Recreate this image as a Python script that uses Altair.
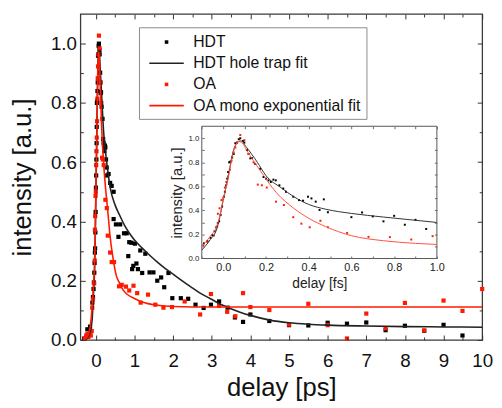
import altair as alt
import pandas as pd

# ---------------- data ----------------
LEGEND_LABELS = ["HDT", "HDT hole trap fit", "OA", "OA mono exponential fit"]

HDT_X = [-0.3, -0.25, -0.22, -0.15, -0.12,
         -0.09, -0.074, -0.059, -0.051, -0.04, -0.032, -0.025, -0.019, -0.012, -0.005,
         0.003, 0.008, 0.014, 0.019, 0.023, 0.028, 0.034, 0.042, 0.049, 0.057,
         0.065, 0.073, 0.08, 0.093, 0.099, 0.111, 0.119, 0.127, 0.134, 0.15,
         0.173, 0.189, 0.201, 0.212, 0.223, 0.235, 0.246, 0.263, 0.281, 0.294,
         0.33, 0.37, 0.41, 0.46, 0.46, 0.52, 0.585, 0.63, 0.73, 0.80,
         0.84, 0.865, 0.92, 0.94, 0.97, 1.01, 1.05, 1.09, 1.15, 1.2,
         1.28, 1.39, 1.49, 1.59, 1.69, 1.77, 1.88, 1.98, 2.2, 2.39,
         2.58, 2.79, 2.98, 3.19, 3.41, 3.6, 3.81, 4.0, 4.49, 5.0,
         5.5, 6.0, 6.5, 7.0, 7.5, 8.0, 8.5, 9.0, 9.49]
HDT_Y = [0.005, 0.01, 0.036, 0.045, 0.03,
         0.126, 0.145, 0.172, 0.194, 0.227, 0.26, 0.295, 0.309, 0.363, 0.432,
         0.514, 0.555, 0.609, 0.664, 0.719, 0.8, 0.806, 0.84, 0.869, 0.959,
         0.964, 0.992, 1.0, 0.978, 0.964, 0.902, 0.869, 0.833, 0.836, 0.787,
         0.746, 0.678, 0.664, 0.65, 0.637, 0.656, 0.65, 0.609, 0.582, 0.555,
         0.56, 0.53, 0.52, 0.5, 0.408, 0.39, 0.348, 0.39, 0.36, 0.36,
         0.283, 0.33, 0.328, 0.239, 0.25, 0.325, 0.258, 0.239, 0.302, 0.226,
         0.291, 0.228, 0.228, 0.2, 0.211, 0.178, 0.226, 0.141, 0.141, 0.139,
         0.119, 0.108, 0.119, 0.13, 0.109, 0.076, 0.061, 0.086, 0.064, 0.05,
         0.049, 0.058, 0.055, 0.059, 0.033, 0.048, 0.031, 0.051, 0.015]

OA_X = [-0.28, -0.25, -0.22, -0.19, -0.16, -0.13, -0.11,
        -0.093, -0.074, -0.043, -0.028, -0.025, -0.017, -0.008, 0.0, 0.008, 0.015,
        0.023, 0.031, 0.039, 0.049, 0.057, 0.065, 0.08, 0.099, 0.119, 0.142,
        0.162, 0.181, 0.204, 0.247, 0.284,
        0.31, 0.37, 0.41, 0.47, 0.6, 0.67, 0.78, 0.865, 0.975, 1.07,
        1.16, 1.35, 1.54, 1.75, 1.97, 2.3, 2.7, 2.98, 3.19, 3.4,
        3.61, 3.81, 4.0, 4.49, 5.0, 5.5, 6.0, 6.5, 7.0, 7.5,
        8.0, 8.5, 9.0, 9.49, 10.0]
OA_Y = [0.005, 0.015, 0.02, 0.01, 0.022, 0.015, 0.03,
        0.109, 0.137, 0.191, 0.268, 0.372, 0.418, 0.486, 0.5, 0.59, 0.637,
        0.683, 0.738, 0.814, 0.883, 0.923, 0.964, 1.027, 0.984, 0.869, 0.8,
        0.615, 0.609, 0.59, 0.473, 0.445,
        0.352, 0.295, 0.263, 0.263, 0.181, 0.186, 0.18, 0.167, 0.183, 0.158,
        0.126, 0.153, 0.119, 0.109, 0.111, 0.13, 0.086, 0.155, 0.115, 0.095,
        0.08, 0.158, 0.111, 0.101, 0.052, 0.122, 0.05, 0.005, 0.089, 0.039,
        0.125, 0.032, 0.133, 0.098, 0.172]

HDT_FIT_X = [-0.3, -0.2, -0.1, -0.06, -0.03, -0.015, 0.0, 0.02, 0.05, 0.073, 0.083,
             0.11, 0.16, 0.2, 0.25, 0.3, 0.37, 0.5, 0.62, 0.75, 0.87,
             1.0, 1.2, 1.4, 1.6, 1.8, 2.0, 2.2, 2.45, 2.7, 2.97,
             3.2, 3.48, 3.75, 4.0, 4.5, 5.0, 5.5, 6.0, 7.0, 8.0, 9.0, 10.0]
HDT_FIT_Y = [0.0, 0.01, 0.063, 0.158, 0.246, 0.35, 0.486, 0.65, 0.91, 0.973, 0.978,
             0.923, 0.8, 0.705, 0.635, 0.58, 0.515, 0.455, 0.42, 0.385, 0.36,
             0.337, 0.31, 0.285, 0.262, 0.241, 0.222, 0.203, 0.18, 0.158, 0.139,
             0.122, 0.106, 0.093, 0.083, 0.067, 0.058, 0.053, 0.05, 0.047, 0.045, 0.044, 0.043]

OA_FIT_X = [-0.3, -0.2, -0.1, -0.06, -0.03, -0.015, 0.0, 0.02, 0.05, 0.073, 0.09,
            0.11, 0.15, 0.2, 0.26, 0.32, 0.36, 0.45, 0.53, 0.6, 0.7,
            0.8, 1.0, 1.2, 1.6, 2.0, 3.0, 4.0, 6.0, 8.0, 10.0]
OA_FIT_Y = [0.0, 0.015, 0.104, 0.186, 0.27, 0.36, 0.49, 0.64, 0.9, 0.973, 0.95,
            0.87, 0.72, 0.6, 0.5, 0.42, 0.36, 0.272, 0.217, 0.195, 0.17,
            0.155, 0.14, 0.128, 0.117, 0.113, 0.111, 0.111, 0.111, 0.111, 0.111]

IN_HDT_X = [-0.09, -0.074, -0.059, -0.051, -0.04, -0.032, -0.025, -0.019, -0.012, -0.005,
            0.003, 0.008, 0.014, 0.019, 0.023, 0.028, 0.034, 0.042, 0.049, 0.057,
            0.065, 0.073, 0.08, 0.093, 0.099, 0.111, 0.119, 0.127, 0.134, 0.15,
            0.173, 0.189, 0.201, 0.212, 0.223, 0.235, 0.246, 0.263, 0.281, 0.294,
            0.328, 0.355, 0.374, 0.397, 0.413, 0.433, 0.451, 0.471, 0.49,
            0.6, 0.65, 0.7, 0.75, 0.8, 0.85, 0.9, 0.95]
IN_HDT_Y = [0.126, 0.145, 0.172, 0.194, 0.227, 0.26, 0.295, 0.309, 0.363, 0.432,
            0.514, 0.555, 0.609, 0.664, 0.719, 0.8, 0.806, 0.84, 0.869, 0.959,
            0.964, 0.992, 1.0, 0.978, 0.964, 0.902, 0.869, 0.833, 0.836, 0.787,
            0.746, 0.678, 0.664, 0.65, 0.637, 0.656, 0.65, 0.609, 0.582, 0.555,
            0.514, 0.486, 0.481, 0.514, 0.5, 0.473, 0.404, 0.492, 0.385,
            0.344, 0.383, 0.35, 0.309, 0.355, 0.281, 0.322, 0.246]

IN_OA_X = [-0.093, -0.074, -0.043, -0.028, -0.025, -0.017, -0.008, 0.0, 0.008, 0.015,
           0.023, 0.031, 0.039, 0.049, 0.057, 0.065, 0.08, 0.099, 0.119, 0.142,
           0.162, 0.181, 0.204, 0.247, 0.284,
           0.328, 0.366, 0.405, 0.455, 0.49, 0.58, 0.68, 0.78, 0.88, 0.98]
IN_OA_Y = [0.109, 0.137, 0.191, 0.268, 0.372, 0.418, 0.486, 0.5, 0.59, 0.637,
           0.683, 0.738, 0.814, 0.883, 0.923, 0.964, 1.027, 0.984, 0.869, 0.8,
           0.615, 0.609, 0.59, 0.473, 0.445,
           0.344, 0.29, 0.26, 0.314, 0.26, 0.213, 0.18, 0.178, 0.158, 0.186]

IN_HDT_FIT_X = [-0.1, -0.06, -0.03, -0.015, 0.0, 0.02, 0.05, 0.073, 0.083, 0.11, 0.16,
                0.2, 0.27, 0.33, 0.4, 0.48, 0.6, 0.75, 0.9, 1.0]
IN_HDT_FIT_Y = [0.07, 0.158, 0.246, 0.35, 0.486, 0.65, 0.91, 0.973, 0.978, 0.923, 0.8,
                0.69, 0.59, 0.515, 0.45, 0.41, 0.375, 0.345, 0.318, 0.3]
IN_OA_FIT_X = [-0.1, -0.06, -0.03, -0.015, 0.0, 0.02, 0.05, 0.073, 0.09, 0.11, 0.17,
               0.25, 0.33, 0.4, 0.48, 0.6, 0.75, 0.9, 1.0]
IN_OA_FIT_Y = [0.104, 0.186, 0.27, 0.36, 0.49, 0.64, 0.9, 0.973, 0.96, 0.9, 0.74,
               0.546, 0.418, 0.335, 0.265, 0.19, 0.148, 0.126, 0.117]

MAIN_X_DOMAIN = [-0.4, 10]
MAIN_Y_DOMAIN = [0, 1.1]
MAIN_X_TICKS = [0, 1, 2, 3, 4, 5, 6, 7, 8, 9, 10]
MAIN_X_MINOR = [0.5, 1.5, 2.5, 3.5, 4.5, 5.5, 6.5, 7.5, 8.5, 9.5]
MAIN_Y_TICKS = [0.0, 0.2, 0.4, 0.6, 0.8, 1.0]
MAIN_Y_MINOR = [0.1, 0.3, 0.5, 0.7, 0.9]

IN_X_DOMAIN = [-0.1, 1.0]
IN_Y_DOMAIN = [0, 1.1]
IN_X_TICKS = [0.0, 0.2, 0.4, 0.6, 0.8, 1.0]
IN_Y_TICKS = [0.0, 0.2, 0.4, 0.6, 0.8, 1.0]
IN_X_MINOR = [-0.1, 0.0, 0.1, 0.2, 0.3, 0.4, 0.5, 0.6, 0.7, 0.8, 0.9, 1.0]
IN_Y_MINOR = [0.1, 0.2, 0.3, 0.4, 0.5, 0.6, 0.7, 0.8, 0.9, 1.0]

# ---------------- styles / layout ----------------
F = "Liberation Sans"
W, H = 408, 331
IN_L, IN_R, IN_T, IN_B = 123.3, 362.0, 114.0, 248.3
RED = "#ff1a00"
LEGEND_COLORS = ["#000000", "#222222", RED, RED]
SQ = "M-0.18,-0.18H0.18V0.18H-0.18Z"
LN = "M-1.75,-0.085H1.75V0.085H-1.75Z"
LEGEND_SHAPES = [SQ, LN, SQ, LN]

MX = alt.Scale(domain=MAIN_X_DOMAIN, nice=False, zero=False)
MY = alt.Scale(domain=MAIN_Y_DOMAIN, nice=False, zero=False)
IX = alt.Scale(domain=IN_X_DOMAIN, range=[IN_L, IN_R], nice=False, zero=False)
IY = alt.Scale(domain=IN_Y_DOMAIN, range=[IN_B, IN_T], nice=False, zero=False)


def tick_axis(orient, values, size, offset, color="#333333"):
    return alt.Axis(orient=orient, values=values, tickSize=size, offset=offset,
                    labels=False, domain=False, grid=False, title=None, ticks=True,
                    tickColor=color, tickWidth=1, zindex=2)


def tick_layer(data, sx, sy, xaxis, yaxis):
    return alt.Chart(data).mark_point(opacity=0).encode(
        x=alt.X("x:Q", scale=sx, axis=xaxis),
        y=alt.Y("y:Q", scale=sy, axis=yaxis),
    )


pts_df = pd.DataFrame({
    "x": HDT_X + OA_X,
    "y": HDT_Y + OA_Y,
    "series": ["HDT"] * len(HDT_X) + ["OA"] * len(OA_X),
})

legend = alt.Legend(title=None, orient="none", legendX=59.5, legendY=13.5,
                    labelFont=F, labelFontSize=16, labelColor="#111111",
                    symbolSize=400, symbolStrokeWidth=0, symbolOffset=13,
                    labelOffset=17, rowPadding=3.5, padding=5,
                    strokeColor="#8a8a8a", fillColor="white", labelLimit=400)

points = alt.Chart(pts_df).mark_point(filled=True, opacity=1, size=560, strokeWidth=0).encode(
    x=alt.X("x:Q", scale=MX, axis=alt.Axis(
        orient="bottom", values=MAIN_X_TICKS, ticks=False, domain=False, grid=False,
        labelFont=F, labelFontSize=19, labelPadding=12, labelFlush=False, labelOverlap=False,
        labelColor="#111111", title="delay [ps]", titleFont=F, titleFontSize=26,
        titleFontWeight="normal", titleColor="#111111", titlePadding=4)),
    y=alt.Y("y:Q", scale=MY, axis=alt.Axis(
        orient="left", values=MAIN_Y_TICKS, format=".1f", ticks=False, domain=False, grid=False,
        labelFont=F, labelFontSize=19, labelPadding=4, labelFlush=False, labelOverlap=False,
        labelColor="#111111", title="intensity [a.u.]", titleFont=F, titleFontSize=26,
        titleFontWeight="normal", titleColor="#111111", titlePadding=15)),
    color=alt.Color("series:N", scale=alt.Scale(domain=LEGEND_LABELS, range=LEGEND_COLORS), legend=legend),
    shape=alt.Shape("series:N", scale=alt.Scale(domain=LEGEND_LABELS, range=LEGEND_SHAPES), legend=legend),
)


def fit(xs, ys, color, width, sx, sy):
    return alt.Chart(pd.DataFrame({"x": xs, "y": ys})).mark_line(
        color=color, strokeWidth=width, interpolate="monotone").encode(
        x=alt.X("x:Q", scale=sx, axis=None),
        y=alt.Y("y:Q", scale=sy, axis=None),
    )


main = alt.layer(
    points,
    fit(HDT_FIT_X, HDT_FIT_Y, "#222222", 1.6, MX, MY),
    fit(OA_FIT_X, OA_FIT_Y, RED, 1.6, MX, MY),
    tick_layer(pts_df, MX, MY, tick_axis("top", MAIN_X_TICKS, 5, -H), tick_axis("right", MAIN_Y_TICKS, 5, -W)),
    tick_layer(pts_df, MX, MY, tick_axis("top", MAIN_X_MINOR, 3, -H), tick_axis("right", MAIN_Y_MINOR, 3, -W)),
    tick_layer(pts_df, MX, MY, tick_axis("bottom", MAIN_X_TICKS, 5, -H), tick_axis("left", MAIN_Y_TICKS, 5, -W)),
    tick_layer(pts_df, MX, MY, tick_axis("bottom", MAIN_X_MINOR, 3, -H), tick_axis("left", MAIN_Y_MINOR, 3, -W)),
).resolve_axis(x="independent", y="independent")

frame_df = pd.DataFrame({"x": [IN_X_DOMAIN[0]], "x2": [IN_X_DOMAIN[1]],
                         "y": [IN_Y_DOMAIN[0]], "y2": [IN_Y_DOMAIN[1]]})
inset_bg = alt.Chart(frame_df).mark_rect(fill="white", stroke="#555555", strokeWidth=1).encode(
    x=alt.X("x:Q", scale=IX, axis=alt.Axis(
        orient="bottom", offset=IN_B - H, values=IN_X_TICKS, format=".1f", ticks=False,
        domain=False, grid=False, labelFont=F, labelFontSize=11, labelPadding=3,
        labelFlush=False, labelOverlap=False, labelColor="#222222", title="delay [fs]",
        titleFont=F, titleFontSize=14, titleFontWeight="normal", titleColor="#222222",
        titlePadding=4, zindex=2)),
    x2="x2:Q",
    y=alt.Y("y:Q", scale=IY, axis=alt.Axis(
        orient="left", offset=-IN_L, values=IN_Y_TICKS, format=".1f", ticks=False,
        domain=False, grid=False, labelFont=F, labelFontSize=8, labelPadding=3,
        labelFlush=False, labelOverlap=False, labelColor="#222222", title="intensity [a.u.]",
        titleFont=F, titleFontSize=15, titleFontWeight="normal", titleColor="#222222",
        titlePadding=3, zindex=2)),
    y2="y2:Q",
)

in_hdt_df = pd.DataFrame({"x": IN_HDT_X, "y": IN_HDT_Y})
in_oa_df = pd.DataFrame({"x": IN_OA_X, "y": IN_OA_Y})


def in_pts(df, color):
    return alt.Chart(df).mark_point(shape="square", filled=True, size=4, opacity=1, color=color).encode(
        x=alt.X("x:Q", scale=IX, axis=None),
        y=alt.Y("y:Q", scale=IY, axis=None),
    )


inset = alt.layer(
    inset_bg,
    in_pts(in_hdt_df, "#000000"),
    in_pts(in_oa_df, RED),
    fit(IN_HDT_FIT_X, IN_HDT_FIT_Y, "#333333", 1.0, IX, IY),
    fit(IN_OA_FIT_X, IN_OA_FIT_Y, "#ff5040", 1.0, IX, IY),
    tick_layer(in_hdt_df, IX, IY, tick_axis("top", IN_X_MINOR, 2.5, -IN_B, "#666666"),
               tick_axis("right", IN_Y_MINOR, 2.5, IN_L - W, "#666666")),
    tick_layer(in_hdt_df, IX, IY, tick_axis("bottom", IN_X_MINOR, 2.5, IN_T - H, "#666666"),
               tick_axis("left", IN_Y_MINOR, 2.5, -IN_R, "#666666")),
).resolve_axis(x="independent", y="independent")

chart = alt.layer(main, inset).resolve_scale(
    x="independent", y="independent"
).properties(
    width=W, height=H,
    autosize=alt.AutoSizeParams(type="none"),
    padding={"left": 73.5, "top": 3, "right": 12, "bottom": 66},
).configure_view(stroke="#3a3a3a", strokeWidth=1.3)

chart.save("out.html", embed_options={"renderer": "svg", "actions": False})
